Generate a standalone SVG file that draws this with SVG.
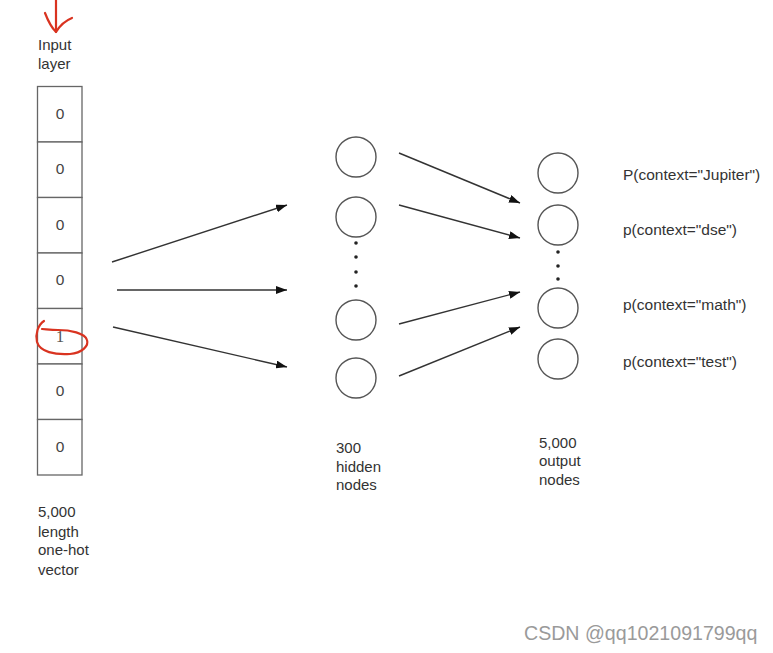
<svg xmlns="http://www.w3.org/2000/svg" width="773" height="653" viewBox="0 0 773 653">
  <defs>
    <marker id="ah" markerUnits="userSpaceOnUse" markerWidth="11" markerHeight="8" refX="11" refY="4" orient="auto">
      <path d="M0,0 L11,4 L0,8 z" fill="#111"/>
    </marker>
    <style>
      .t { font-family: "Liberation Sans", Arial, sans-serif; fill: #333; font-size: 15px; }
      .p { font-family: "Liberation Sans", Arial, sans-serif; fill: #333; font-size: 15.5px; }
      .z { font-family: "Liberation Sans", Arial, sans-serif; fill: #444; font-size: 15.5px; text-anchor: middle; }
      .cell { fill: #fff; stroke: #666; stroke-width: 1.3; }
      .node { fill: #fff; stroke: #555; stroke-width: 1.4; }
      .conn { stroke: #333; stroke-width: 1.4; fill: none; marker-end: url(#ah); }
      .dot { fill: #222; }
      .red { stroke: #d93320; stroke-width: 2.2; fill: none; stroke-linecap: round; stroke-linejoin: round; }
    </style>
  </defs>
  <rect x="0" y="0" width="773" height="653" fill="#ffffff"/>

  <g id="input-layer">
    <text class="t" x="38" y="50">Input</text>
    <text class="t" x="38" y="69">layer</text>
    <rect class="cell" x="37.5" y="86.5" width="44.5" height="55.5"/>
    <rect class="cell" x="37.5" y="142" width="44.5" height="55.5"/>
    <rect class="cell" x="37.5" y="197.5" width="44.5" height="55.5"/>
    <rect class="cell" x="37.5" y="253" width="44.5" height="55.5"/>
    <rect class="cell" x="37.5" y="308.5" width="44.5" height="55.5"/>
    <rect class="cell" x="37.5" y="364" width="44.5" height="55.5"/>
    <rect class="cell" x="37.5" y="419.5" width="44.5" height="55.5"/>
    <text class="z" x="60" y="119">0</text>
    <text class="z" x="60" y="174">0</text>
    <text class="z" x="60" y="230">0</text>
    <text class="z" x="60" y="285">0</text>
    <text class="z" x="60" y="342" style="font-family:'Liberation Serif',serif;fill:#555;font-size:17px">1</text>
    <text class="z" x="60" y="396">0</text>
    <text class="z" x="60" y="452">0</text>
    <text class="t" x="38" y="517">5,000</text>
    <text class="t" x="38" y="537">length</text>
    <text class="t" x="38" y="555">one-hot</text>
    <text class="t" x="38" y="575">vector</text>
  </g>

  <g id="annotations">
    <path class="red" d="M56,0 L56,32"/>
    <path class="red" d="M45,13 Q50,26 56,32 Q62,22 72,18"/>
    <path class="red" d="M44,321 C38,325 35,334 37,342 C40,352 55,355 70,354 C82,353 89,346 87,340 C85,333 70,330 58,330 C50,330 45,329 42,329"/>
  </g>

  <g id="hidden-layer">
    <circle class="node" cx="356" cy="157" r="20"/>
    <circle class="node" cx="356" cy="217" r="20"/>
    <circle class="dot" cx="356" cy="243" r="1.8"/>
    <circle class="dot" cx="356" cy="257" r="1.8"/>
    <circle class="dot" cx="356" cy="272" r="1.8"/>
    <circle class="dot" cx="356" cy="286" r="1.8"/>
    <circle class="node" cx="356" cy="320" r="20"/>
    <circle class="node" cx="356" cy="378" r="20"/>
    <text class="t" x="336" y="453">300</text>
    <text class="t" x="336" y="472">hidden</text>
    <text class="t" x="336" y="490">nodes</text>
  </g>

  <g id="output-layer">
    <circle class="node" cx="558" cy="173" r="20"/>
    <circle class="node" cx="558" cy="225" r="20"/>
    <circle class="dot" cx="558" cy="252" r="1.8"/>
    <circle class="dot" cx="558" cy="266" r="1.8"/>
    <circle class="dot" cx="558" cy="279" r="1.8"/>
    <circle class="node" cx="558" cy="308" r="20"/>
    <circle class="node" cx="558" cy="359" r="20"/>
    <text class="t" x="539" y="448">5,000</text>
    <text class="t" x="539" y="466">output</text>
    <text class="t" x="539" y="485">nodes</text>
  </g>

  <g id="output-labels">
    <text class="p" x="623" y="180">P(context="Jupiter")</text>
    <text class="p" x="623" y="235">p(context="dse")</text>
    <text class="p" x="623" y="310">p(context="math")</text>
    <text class="p" x="623" y="367">p(context="test")</text>
  </g>

  <g id="connectors">
    <line class="conn" x1="112" y1="262" x2="287" y2="205"/>
    <line class="conn" x1="117" y1="290" x2="287" y2="290"/>
    <line class="conn" x1="113" y1="327" x2="287" y2="367"/>
    <line class="conn" x1="399" y1="153" x2="520" y2="203"/>
    <line class="conn" x1="399" y1="205" x2="520" y2="238"/>
    <line class="conn" x1="399" y1="324" x2="520" y2="292"/>
    <line class="conn" x1="399" y1="376" x2="520" y2="327"/>
  </g>

  <text x="524" y="640" style="font-family:'Liberation Sans',Arial,sans-serif;font-size:19.6px;fill:#9a9a9a">CSDN @qq1021091799qq</text>
</svg>
